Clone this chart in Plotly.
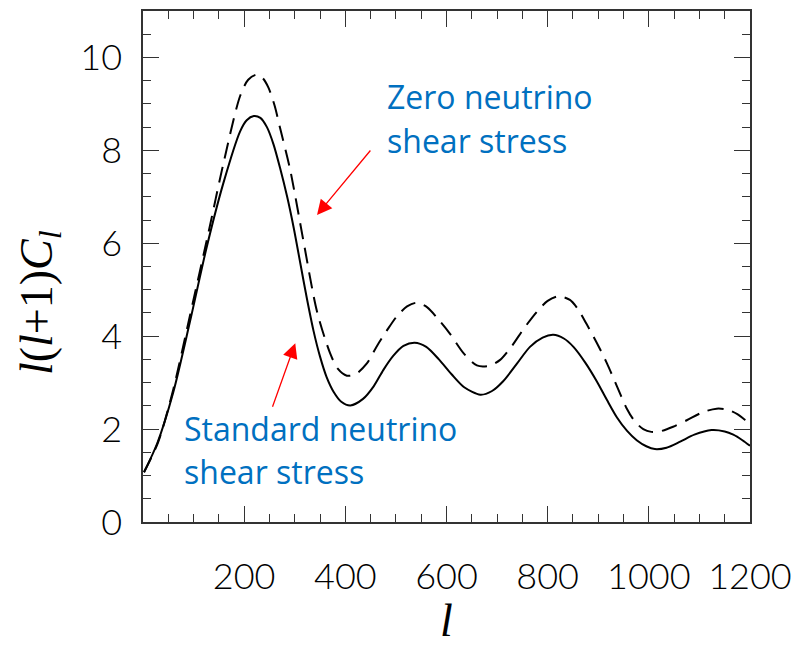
import plotly.graph_objects as go

# Standard neutrino shear stress (solid)
l_std = [2, 28, 60, 93, 126, 159, 192, 205, 219, 232, 245, 258, 271, 285, 298, 311, 324, 337, 350,
         363, 377, 392, 410, 435, 456, 475, 495, 515, 537, 560, 585, 610, 635, 667, 690, 712, 740,
         765, 790, 811, 832, 851, 875, 897, 917, 937, 957, 976, 995, 1012, 1035, 1062, 1090, 1124,
         1150, 1167, 1185, 1200]
c_std = [1.07, 1.69, 2.80, 4.32, 5.92, 7.30, 8.41, 8.65, 8.74, 8.70, 8.50, 8.13, 7.62, 7.00, 6.33,
         5.57, 4.81, 4.12, 3.56, 3.12, 2.80, 2.59, 2.51, 2.65, 2.92, 3.27, 3.58, 3.79, 3.86, 3.77,
         3.50, 3.18, 2.90, 2.74, 2.82, 3.03, 3.42, 3.77, 3.97, 4.03, 3.95, 3.77, 3.42, 3.03, 2.63,
         2.25, 1.96, 1.76, 1.63, 1.57, 1.60, 1.73, 1.88, 1.98, 1.95, 1.88, 1.76, 1.64]

# Zero neutrino shear stress (dashed)
l_zero = [2, 30, 60, 93, 130, 159, 192, 208, 225, 237, 248, 260, 271, 291, 317, 344, 370, 385, 403,
          420, 443, 462, 482, 502, 522, 541, 562, 584, 607, 634, 660, 683, 706, 730, 752, 779, 800,
          821, 844, 860, 877, 897, 917, 937, 956, 972, 989, 1005, 1022, 1048, 1075, 1108, 1134,
          1155, 1175, 1190, 1200]
c_zero = [1.07, 1.72, 2.86, 4.45, 6.26, 7.72, 9.17, 9.52, 9.63, 9.55, 9.35, 8.97, 8.48, 7.58, 6.06,
          4.53, 3.63, 3.30, 3.15, 3.18, 3.42, 3.78, 4.12, 4.43, 4.64, 4.72, 4.62, 4.36, 4.05, 3.63,
          3.37, 3.36, 3.49, 3.80, 4.15, 4.53, 4.76, 4.86, 4.78, 4.58, 4.26, 3.86, 3.42, 2.92, 2.45,
          2.17, 2.00, 1.94, 1.95, 2.05, 2.19, 2.37, 2.44, 2.42, 2.32, 2.20, 2.12]

x_tickvals = [200, 400, 600, 800, 1000, 1200]
x_ticktext = ["200", "400", "600", "800", "1000", "1200"]
y_tickvals = [0, 2, 4, 6, 8, 10]
y_ticktext = ["0", "2", "4", "6", "8", "10"]

fig = go.Figure()
fig.add_trace(go.Scatter(x=l_zero, y=c_zero, mode="lines", line_shape="spline",
                         line=dict(color="black", width=2, dash="16px,9px", smoothing=0.8),
                         name="Zero neutrino shear stress", showlegend=False))
fig.add_trace(go.Scatter(x=l_std, y=c_std, mode="lines", line_shape="spline",
                         line=dict(color="black", width=2, smoothing=0.8),
                         name="Standard neutrino shear stress", showlegend=False))

tickfont = dict(family="Lato", size=36, color="black", weight=300)
axis_common = dict(showline=True, mirror="allticks", linecolor="#333", linewidth=1.5,
                   ticks="inside", tickcolor="#333", tickwidth=1.3, ticklen=16,
                   showgrid=False, zeroline=False, tickfont=tickfont)

fig.update_xaxes(range=[0, 1200], tickmode="array", tickvals=x_tickvals, ticktext=x_ticktext,
                 minor=dict(tickmode="linear", tick0=0, dtick=50, ticks="inside", ticklen=8,
                            tickcolor="#333", tickwidth=1.3),
                 ticklabelstandoff=22,
                 title=dict(text="<i>l</i>", font=dict(family="Liberation Serif", size=46, color="black"),
                            standoff=8),
                 **axis_common)
fig.update_yaxes(range=[0, 11], tickmode="array", tickvals=y_tickvals, ticktext=y_ticktext,
                 minor=dict(tickmode="linear", tick0=0, dtick=0.5, ticks="inside", ticklen=8,
                            tickcolor="#333", tickwidth=1.3),
                 ticklabelstandoff=12,
                 **axis_common)

# y-axis title, placed to match the reference position
fig.add_annotation(xref="paper", yref="paper", x=-0.17, y=0.43,
                   text="<i>l</i>(<i>l</i>+1)<i>C</i><sub><i>l</i></sub>",
                   textangle=-90, showarrow=False, xanchor="center", yanchor="middle",
                   font=dict(family="Liberation Serif", size=46, color="black"))

blue = "#0070C0"
annfont = dict(family="Open Sans", size=32, color=blue)
text_lines = [("Zero neutrino", 479, 9.15), ("shear stress", 479, 8.21),
              ("Standard neutrino", 77, 2.02), ("shear stress", 77, 1.08)]
for txt, xx, yy in text_lines:
    fig.add_annotation(x=xx, y=yy, xref="x", yref="y", text=txt, showarrow=False,
                       xanchor="left", yanchor="middle", align="left", font=annfont)

# arrows
fig.add_annotation(x=344, y=6.61, ax=452, ay=8.03, xref="x", yref="y", axref="x", ayref="y",
                   text="", showarrow=True, arrowhead=2, arrowsize=2.3, arrowwidth=1.3,
                   arrowcolor="red", standoff=0, startstandoff=0)
fig.add_annotation(x=301, y=3.85, ax=255, ay=2.45, xref="x", yref="y", axref="x", ayref="y",
                   text="", showarrow=True, arrowhead=2, arrowsize=2.3, arrowwidth=1.3,
                   arrowcolor="red", standoff=0, startstandoff=0)

fig.update_layout(width=802, height=646, margin=dict(l=143, r=52, t=9, b=108),
                  plot_bgcolor="white", paper_bgcolor="white", showlegend=False)

fig.write_html("out.html")
